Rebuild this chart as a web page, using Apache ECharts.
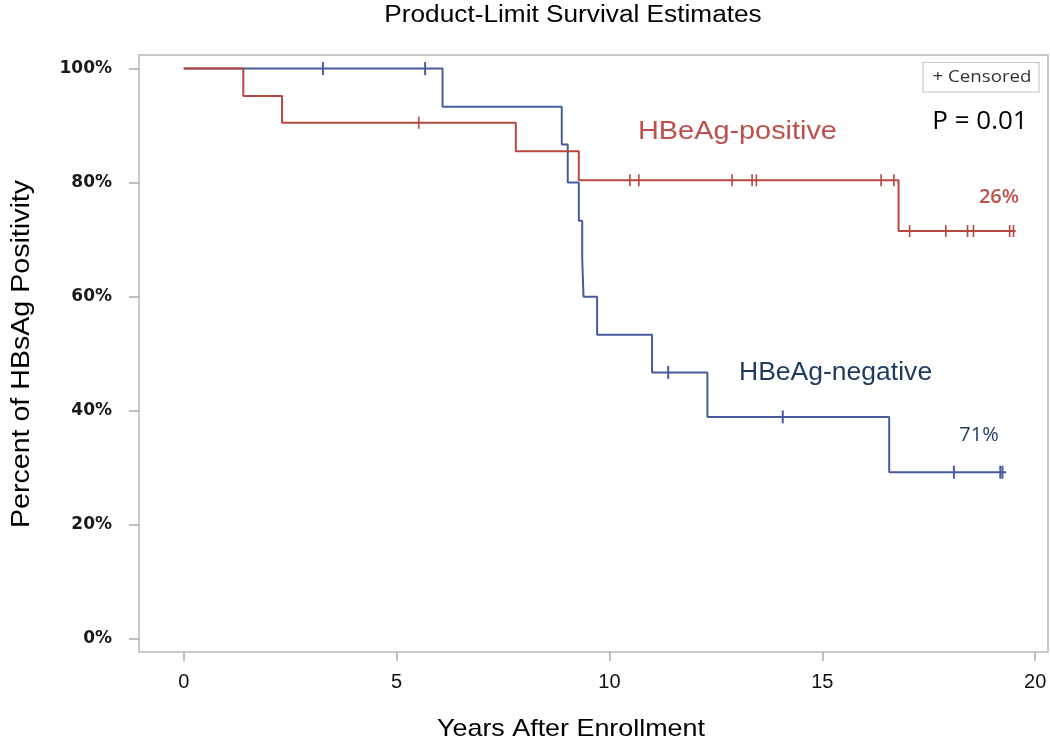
<!DOCTYPE html>
<html>
<head>
<meta charset="utf-8">
<script src="https://cdn.jsdelivr.net/npm/echarts@6/dist/echarts.min.js"></script>
<style>
html,body{margin:0;padding:0;background:#fff;}
#chart{width:1050px;height:745px;}
</style>
</head>
<body>
<div id="chart"></div>
<script>
// ---- Data ----
// HBeAg-positive: event times (years) and survival (%) after each step
const posTimes = [0, 1.40, 2.31, 7.80, 9.28, 16.79];
const posSurv  = [100, 95.2, 90.5, 85.5, 80.4, 71.5];
const posEnd   = 19.54;
const posCensor = [5.52, 10.48, 10.69, 12.88, 13.35, 13.45, 16.38, 16.68,
                   17.05, 17.90, 18.41, 18.55, 19.40, 19.49];

// HBeAg-negative
const negTimes = [0, 6.08, 8.88, 9.02, 9.28, 9.36, 9.39, 9.71, 11.00, 12.30, 16.57];
const negSurv  = [100, 93.3, 86.7, 80.0, 73.3, 66.7, 60.0, 53.3, 46.7, 38.9, 29.2];
const negEnd   = 19.32;
const negCensor = [3.27, 5.67, 11.38, 14.07, 18.09, 19.18, 19.23];

const xTicks = [0, 5, 10, 15, 20];
const yTicks = [0, 20, 40, 60, 80, 100];

const title = 'Product-Limit Survival Estimates';
const xName = 'Years After Enrollment';
const yName = 'Percent of HBsAg Positivity';
const posLabel = 'HBeAg-positive';
const negLabel = 'HBeAg-negative';
const posPct = '26%';
const negPct = '71%';
const pText = 'P = 0.01';
const legendText = '+ Censored';

// ---- helpers ----
function stepData(times, surv, end) {
  const d = times.map((t, i) => [t, surv[i]]);
  d.push([end, surv[surv.length - 1]]);
  return d;
}
function survAt(times, surv, t) {
  let s = surv[0];
  for (let i = 0; i < times.length; i++) if (times[i] <= t) s = surv[i];
  return s;
}

const RED = '#b8473f';
const BLUE = '#4a5b9d';
const RED_TXT = '#c0504d';
const NAVY_TXT = '#1f3a5f';
const ARIAL = '"Liberation Sans", Arial, sans-serif';
const OPEN = '"Open Sans", sans-serif';

const chart = echarts.init(document.getElementById('chart'), null, {renderer: 'canvas'});

const option = {
  animation: false,
  backgroundColor: '#fff',
  grid: {left: 139, right: 2, top: 55, bottom: 93, show: true,
         borderColor: '#b9b9b9', borderWidth: 1.5, backgroundColor: 'transparent'},
  xAxis: {
    type: 'value', min: -1.05, max: 20.30,
    splitLine: {show: false},
    axisLine: {show: false, onZero: false},
    axisTick: {show: true, inside: false, length: 9, customValues: xTicks,
               lineStyle: {color: '#aaaaaa', width: 1.5}},
    axisLabel: {customValues: xTicks, margin: 20, color: '#111',
                fontFamily: 'Liberation Sans', fontSize: 20}
  },
  yAxis: {
    type: 'value', min: -2.33, max: 102.38,
    splitLine: {show: false},
    axisLine: {show: false, onZero: false},
    axisTick: {show: true, inside: false, length: 10, customValues: yTicks,
               lineStyle: {color: '#aaaaaa', width: 1.5}},
    axisLabel: {customValues: yTicks, margin: 27, color: '#1a1a1a',
                fontFamily: 'DejaVu Sans', fontSize: 17, fontWeight: 'bold',
                formatter: v => Math.round(v) + '%'}
  },
  series: [
    {type: 'line', name: negLabel, step: 'end', showSymbol: false, z: 2,
     data: stepData(negTimes, negSurv, negEnd),
     lineStyle: {color: BLUE, width: 2}, itemStyle: {color: BLUE}},
    {type: 'scatter', z: 3, symbol: 'rect', symbolSize: [2, 13],
     data: negCensor.map(t => [t, survAt(negTimes, negSurv, t)]),
     itemStyle: {color: BLUE, opacity: 1}},
    {type: 'line', name: posLabel, step: 'end', showSymbol: false, z: 4,
     data: stepData(posTimes, posSurv, posEnd),
     lineStyle: {color: RED, width: 2}, itemStyle: {color: RED}},
    {type: 'scatter', z: 5, symbol: 'rect', symbolSize: [1.6, 12],
     data: posCensor.map(t => [t, survAt(posTimes, posSurv, t)]),
     itemStyle: {color: RED, opacity: 1}}
  ],
  graphic: [
    {type: 'text', x: 573, y: 16, scaleX: 1.14, style: {text: title, font: '23px ' + ARIAL,
      fill: '#000', textAlign: 'center', textVerticalAlign: 'middle'}},
    {type: 'text', x: 571, y: 729, scaleX: 1.12, style: {text: xName, font: '24px ' + ARIAL,
      fill: '#000', textAlign: 'center', textVerticalAlign: 'middle'}},
    {type: 'text', x: 22, y: 354, rotation: Math.PI / 2, scaleX: 1.1, style: {text: yName, font: '26px ' + ARIAL,
      fill: '#000', textAlign: 'center', textVerticalAlign: 'middle'}},
    {type: 'text', x: 638, y: 132, scaleX: 1.11, style: {text: posLabel, font: '26px ' + ARIAL,
      fill: RED_TXT, textAlign: 'left', textVerticalAlign: 'middle'}},
    {type: 'text', x: 739, y: 373, scaleX: 1.02, style: {text: negLabel, font: '26px ' + ARIAL,
      fill: NAVY_TXT, textAlign: 'left', textVerticalAlign: 'middle'}},
    {type: 'text', x: 999, y: 197, style: {text: posPct, font: '600 20px ' + OPEN,
      fill: RED_TXT, textAlign: 'center', textVerticalAlign: 'middle'}},
    {type: 'text', x: 979, y: 435, style: {text: negPct, font: '500 20px ' + OPEN,
      fill: NAVY_TXT, textAlign: 'center', textVerticalAlign: 'middle'}},
    {type: 'text', x: 980, y: 122, style: {text: pText, font: '26px ' + OPEN,
      fill: '#000', textAlign: 'center', textVerticalAlign: 'middle'}},
    {type: 'rect', shape: {x: 923, y: 62.5, width: 116, height: 29.5},
      style: {fill: '#fff', stroke: '#c8c8c8', lineWidth: 1.2}},
    {type: 'text', x: 982, y: 77, scaleX: 1.1, style: {text: legendText, font: '17px ' + OPEN,
      fill: '#333', textAlign: 'center', textVerticalAlign: 'middle'}}
  ]
};
chart.setOption(option);
</script>
</body>
</html>
